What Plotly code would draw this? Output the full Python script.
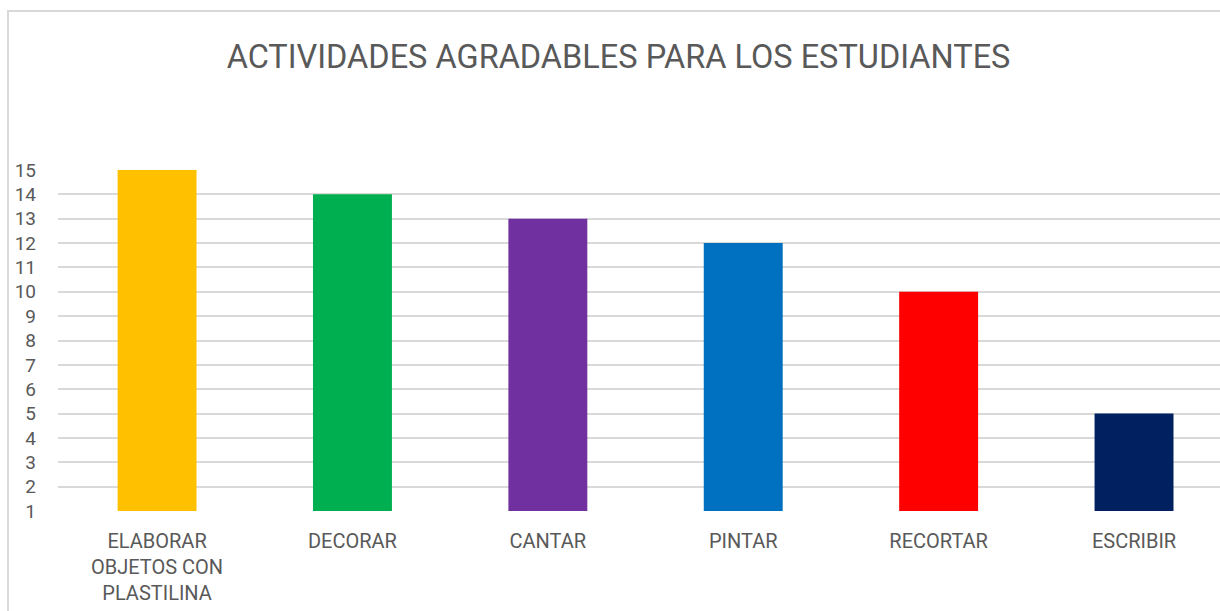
import plotly.graph_objects as go

# ── Data ──────────────────────────────────────────────────────────────────────
categorias = ["ELABORAR<br>OBJETOS CON<br>PLASTILINA", "DECORAR", "CANTAR",
              "PINTAR", "RECORTAR", "ESCRIBIR"]
valores = [15, 14, 13, 12, 10, 5]
colores = ["#FFC000", "#00B050", "#7030A0", "#0070C0", "#FF0000", "#002060"]
y_ticks = list(range(1, 16))

TEXT = "#595959"
GRID = "#D9D9D9"
FONT = "Roboto, sans-serif"

W, H = 1220, 611
ML, MR, MT, MB = 58, 0, 170, 100

fig = go.Figure(go.Bar(
    x=categorias, y=valores,
    marker_color=colores, marker_line_width=0,
))

# chart-area border (as in the original export)
pw, ph = W - ML - MR, H - MT - MB
fig.add_shape(type="rect", xref="paper", yref="paper", layer="below",
              x0=(8 - ML) / pw, x1=1.2, y0=-0.5, y1=(H - 11 - MB) / ph,
              line=dict(color=GRID, width=2), fillcolor="rgba(0,0,0,0)")

fig.update_layout(
    width=W, height=H,
    paper_bgcolor="white", plot_bgcolor="white",
    margin=dict(l=ML, r=MR, t=MT, b=MB),
    font=dict(family=FONT, color=TEXT, size=19),
    title=dict(text="ACTIVIDADES AGRADABLES PARA LOS ESTUDIANTES",
               font=dict(size=32.5, color=TEXT), x=0.507, xanchor="center",
               y=1 - 57 / H, yanchor="middle"),
    bargap=0.596,
    showlegend=False,
    # the original chart is cropped on the right, last category runs off-page
    xaxis=dict(range=[-0.507, 5.44], showgrid=False, zeroline=False,
               showline=False, tickfont=dict(size=20, color=TEXT), ticks="",
               ticklabelstandoff=16, automargin=False),
    yaxis=dict(range=[1, 15], tickvals=y_ticks, showgrid=True,
               gridcolor=GRID, gridwidth=1.5, zeroline=False,
               showline=False, tickfont=dict(size=19, color=TEXT),
               ticklabelstandoff=21, automargin=False),
)

fig.write_html("out.html", config=dict(displayModeBar=False),
               post_script="document.body.style.margin='0';")
